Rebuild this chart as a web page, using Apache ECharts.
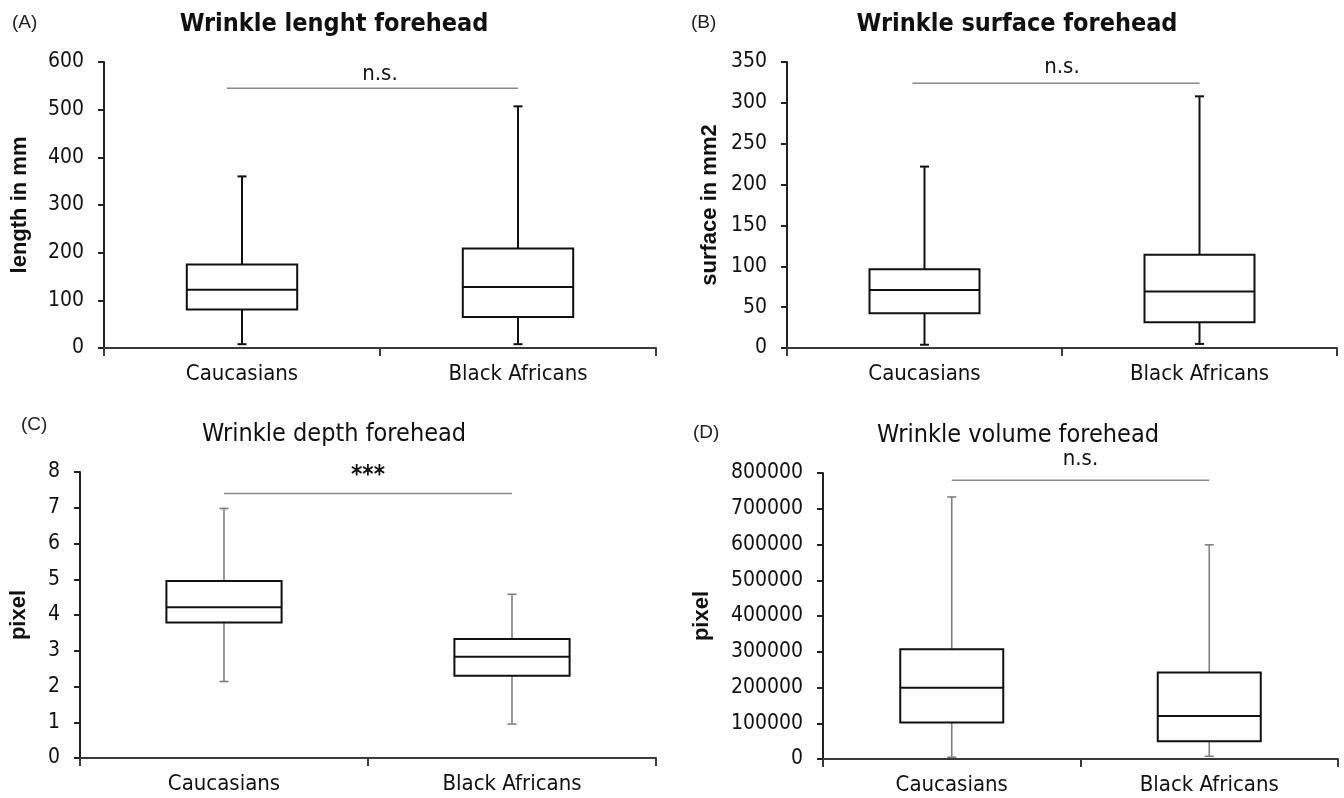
<!DOCTYPE html>
<html>
<head>
<meta charset="utf-8">
<script src="https://cdn.jsdelivr.net/npm/echarts@6/dist/echarts.min.js"></script>
<style>html,body{margin:0;padding:0;background:#fff;}#c{width:1344px;height:798px;}</style>
</head>
<body>
<div id="c"></div>
<script>
// ---- data ----
const categories = ['Caucasians', 'Black Africans'];
// [min, Q1, median, Q3, max]
const lengthCaucasians = [8, 81, 122, 175, 360];
const lengthBlackAfricans = [8, 65, 128, 209, 507];
const surfaceCaucasians = [4, 42.5, 71, 96.5, 222];
const surfaceBlackAfricans = [5, 31.5, 69, 114, 308];
const depthCaucasians = [2.14, 3.79, 4.22, 4.95, 6.98];
const depthBlackAfricans = [0.95, 2.30, 2.83, 3.33, 4.58];
const volumeCaucasians = [5000, 102000, 199000, 307000, 733000];
const volumeBlackAfricans = [7500, 49500, 120000, 242000, 599000];
const sigLevels = [545, 324, 7.4, 780000];
const sigLabels = ['n.s.', 'n.s.', '***', 'n.s.'];
const panelTitles = ['Wrinkle lenght forehead', 'Wrinkle surface forehead', 'Wrinkle depth forehead', 'Wrinkle volume forehead'];
const panelLetters = ['(A)', '(B)', '(C)', '(D)'];
const yNames = ['length in mm', 'surface in mm2', 'pixel', 'pixel'];
const yMax = [600, 350, 8, 800000];
const yStep = [100, 50, 1, 100000];

// ---- layout / style ----
const FONT = '"DejaVu Sans Condensed", "DejaVu Sans", sans-serif';
const grids = [
  {left: 104, right: 688, top: 62, bottom: 450},
  {left: 787, right: 7, top: 62, bottom: 450},
  {left: 80, right: 688, top: 472, bottom: 40},
  {left: 823, right: 6, top: 473, bottom: 39}
];
const nameGaps = [73, 66, 50, 110];
const whiskerColors = ['#111', '#111', '#808080', '#808080'];
const whiskerWidths = [2, 2, 1.6, 1.6];
const sigStartOffset = [15, 12, 0, 0];
const sigTextOffset = [14, 16, 18, 21];
const titleX = [329, 1012, 329, 1013];
const titleY = [7, 7, 417, 418];
const titleBold = [true, true, false, false];
const letterX = [7, 686, 16, 688];
const letterY = [8, 8, 410, 418];

const boxData = [
  [lengthCaucasians, lengthBlackAfricans],
  [surfaceCaucasians, surfaceBlackAfricans],
  [depthCaucasians, depthBlackAfricans],
  [volumeCaucasians, volumeBlackAfricans]
];

function boxRenderer(p) {
  return function (params, api) {
    const ci = api.value(0);
    const v = [1, 2, 3, 4, 5].map(i => api.value(i));
    const pt = v.map(val => api.coord([ci, val]));
    const cx = pt[0][0];
    const bw = api.size([1, 0])[0] * 0.4;
    const cap = 4.5;
    const wStyle = {stroke: whiskerColors[p], lineWidth: whiskerWidths[p], fill: null};
    const bStyle = {stroke: '#111', lineWidth: 2, fill: '#fff'};
    return {
      type: 'group',
      children: [
        {type: 'line', shape: {x1: cx, y1: pt[0][1], x2: cx, y2: pt[1][1]}, style: wStyle},
        {type: 'line', shape: {x1: cx, y1: pt[3][1], x2: cx, y2: pt[4][1]}, style: wStyle},
        {type: 'line', shape: {x1: cx - cap, y1: pt[0][1], x2: cx + cap, y2: pt[0][1]}, style: wStyle},
        {type: 'line', shape: {x1: cx - cap, y1: pt[4][1], x2: cx + cap, y2: pt[4][1]}, style: wStyle},
        {type: 'rect', shape: {x: cx - bw / 2, y: pt[3][1], width: bw, height: pt[1][1] - pt[3][1]}, style: bStyle},
        {type: 'line', shape: {x1: cx - bw / 2, y1: pt[2][1], x2: cx + bw / 2, y2: pt[2][1]}, style: {stroke: '#111', lineWidth: 2}}
      ]
    };
  };
}

function sigRenderer(p) {
  return function (params, api) {
    const lvl = api.value(0);
    const a = api.coord([0, lvl]);
    const b = api.coord([1, lvl]);
    const cs = params.coordSys;
    return {
      type: 'group',
      children: [
        {type: 'line', shape: {x1: a[0] - sigStartOffset[p], y1: a[1], x2: b[0], y2: a[1]}, style: {stroke: '#8a8a8a', lineWidth: 1.5}},
        {type: 'text', x: cs.x + cs.width / 2, y: a[1] - sigTextOffset[p],
          style: {text: sigLabels[p], fill: '#111', font: (p === 2 ? 'bold 24px ' : '22px ') + FONT, textAlign: 'center', textVerticalAlign: 'middle'}}
      ]
    };
  };
}

const option = {
  animation: false,
  backgroundColor: '#fff',
  title: [],
  grid: grids,
  xAxis: [],
  yAxis: [],
  series: []
};

for (let p = 0; p < 4; p++) {
  option.title.push({
    text: panelTitles[p], left: titleX[p], top: titleY[p], textAlign: 'center',
    textStyle: {fontFamily: FONT, fontSize: 25, fontWeight: titleBold[p] ? 'bold' : 'normal', color: '#111'}
  });
  option.title.push({
    text: panelLetters[p], left: letterX[p], top: letterY[p],
    textStyle: {fontFamily: '"Liberation Sans", Arial, sans-serif', fontSize: 19, fontWeight: 'normal', color: '#222'}
  });
  option.xAxis.push({
    type: 'category', gridIndex: p, data: categories, boundaryGap: true,
    axisLine: {show: true, lineStyle: {color: '#3a3a3a', width: 2}},
    axisTick: {show: true, length: 8, lineStyle: {color: '#3a3a3a', width: 2}},
    axisLabel: {fontFamily: FONT, fontSize: 22, color: '#111', margin: 15},
    splitLine: {show: false}
  });
  option.yAxis.push({
    type: 'value', gridIndex: p, min: 0, max: yMax[p], interval: yStep[p],
    name: yNames[p], nameLocation: 'middle', nameGap: nameGaps[p],
    nameTextStyle: {fontFamily: '"Liberation Sans", Arial, sans-serif', fontSize: 22, fontWeight: 'bold', color: '#111'},
    axisLine: {show: true, lineStyle: {color: '#222', width: 2}},
    axisTick: {show: true, length: 6, lineStyle: {color: '#222', width: 2}},
    axisLabel: {fontFamily: FONT, fontSize: 21, color: '#111', margin: 20, formatter: function (val) { return String(val); }},
    splitLine: {show: false}
  });
  option.series.push({
    type: 'custom', xAxisIndex: p, yAxisIndex: p,
    renderItem: boxRenderer(p),
    encode: {x: 0, y: [1, 2, 3, 4, 5]},
    data: boxData[p].map((d, i) => [i].concat(d))
  });
  option.series.push({
    type: 'custom', xAxisIndex: p, yAxisIndex: p,
    renderItem: sigRenderer(p),
    encode: {y: 0},
    data: [[sigLevels[p]]]
  });
}

const chart = echarts.init(document.getElementById('c'), null, {renderer: 'canvas'});
chart.setOption(option);
</script>
</body>
</html>
